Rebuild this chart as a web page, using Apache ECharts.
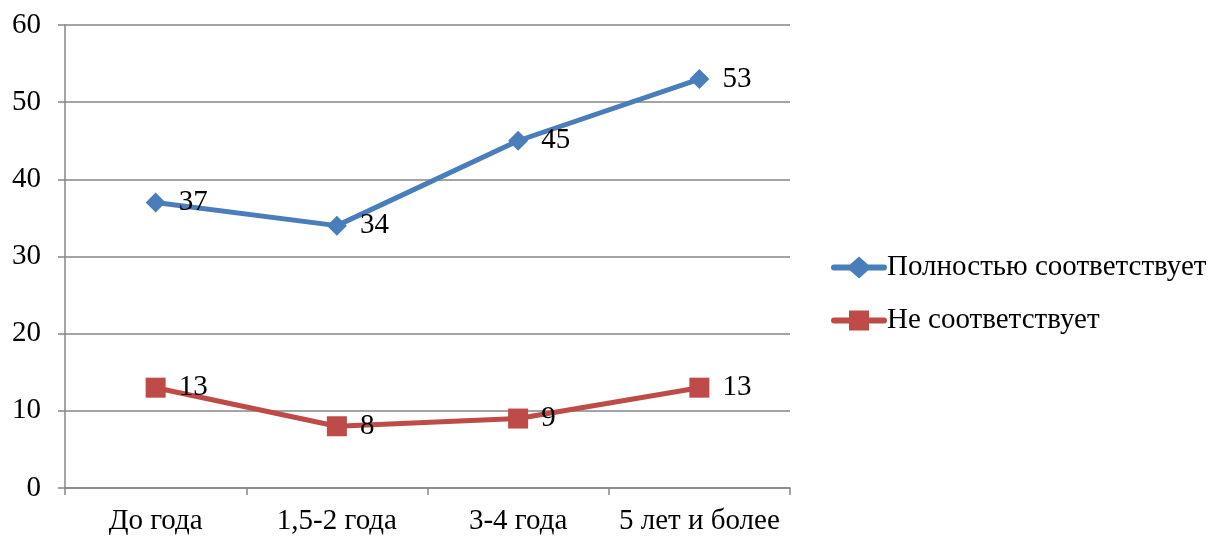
<!DOCTYPE html>
<html>
<head>
<meta charset="utf-8">
<script src="https://cdn.jsdelivr.net/npm/echarts@6/dist/echarts.min.js"></script>
<style>
  html, body { margin: 0; padding: 0; background: #fff; }
  #chart { width: 1212px; height: 536px; }
</style>
</head>
<body>
<div id="chart"></div>
<script>
// Work experience groups
const categories = ['До года', '1,5-2 года', '3-4 года', '5 лет и более'];
// Share of answers per group
const fullyMatches = [37, 34, 45, 53];
const doesNotMatch = [13, 8, 9, 13];
const seriesNames = ['Полностью соответствует', 'Не соответствует'];

const FONT = '"Liberation Serif", "DejaVu Serif", serif';
const FONT_SIZE = 29;
const BLUE = '#4A7EBB';
const RED = '#BE4B48';
const AXIS_GREY = '#868686';

// Legend keys: a short line with the series marker in the middle
const ICON_DIAMOND = 'path://M3,7 L19,7 L28,-1 L37,7 L53,7 A3,3 0 0 1 53,13 L37,13 L28,21 L19,13 L3,13 A3,3 0 0 1 3,7 Z';
const ICON_SQUARE = 'path://M3,7 L18,7 L18,0 L38,0 L38,7 L53,7 A3,3 0 0 1 53,13 L38,13 L38,20 L18,20 L18,13 L3,13 A3,3 0 0 1 3,7 Z';

const chart = echarts.init(document.getElementById('chart'));

const labelStyle = {
  show: true,
  position: 'right',
  distance: 13,
  color: '#000',
  fontFamily: FONT,
  fontSize: FONT_SIZE
};

chart.setOption({
  animation: false,
  backgroundColor: '#fff',
  grid: { left: 65, right: 422, top: 25, bottom: 47 },
  legend: {
    orient: 'vertical',
    left: 826,
    top: 248,
    itemGap: 24,
    itemWidth: 56,
    itemHeight: 22,
    textStyle: { fontFamily: FONT, fontSize: FONT_SIZE, color: '#000', padding: [0, 0, 0, -5] },
    data: [
      { name: seriesNames[0], icon: ICON_DIAMOND },
      { name: seriesNames[1], icon: ICON_SQUARE }
    ]
  },
  xAxis: {
    type: 'category',
    data: categories,
    boundaryGap: true,
    axisLine: { lineStyle: { color: AXIS_GREY, width: 1.5 } },
    axisTick: { show: true, length: 7, lineStyle: { color: AXIS_GREY, width: 1.5 } },
    axisLabel: { interval: 0, color: '#000', fontFamily: FONT, fontSize: FONT_SIZE, margin: 19 }
  },
  yAxis: {
    type: 'value',
    min: 0,
    max: 60,
    interval: 10,
    axisLine: { show: true, lineStyle: { color: AXIS_GREY, width: 1.5 } },
    axisTick: { show: true, length: 7, lineStyle: { color: AXIS_GREY, width: 1.5 } },
    splitLine: { lineStyle: { color: AXIS_GREY, width: 1.5 } },
    axisLabel: { color: '#000', fontFamily: FONT, fontSize: FONT_SIZE, margin: 24 }
  },
  series: [
    {
      name: seriesNames[0],
      type: 'line',
      data: fullyMatches,
      symbol: 'diamond',
      symbolSize: 20,
      itemStyle: { color: BLUE },
      lineStyle: { color: BLUE, width: 5 },
      label: labelStyle
    },
    {
      name: seriesNames[1],
      type: 'line',
      data: doesNotMatch,
      symbol: 'rect',
      symbolSize: 20,
      itemStyle: { color: RED },
      lineStyle: { color: RED, width: 5 },
      label: labelStyle
    }
  ]
});
</script>
</body>
</html>
